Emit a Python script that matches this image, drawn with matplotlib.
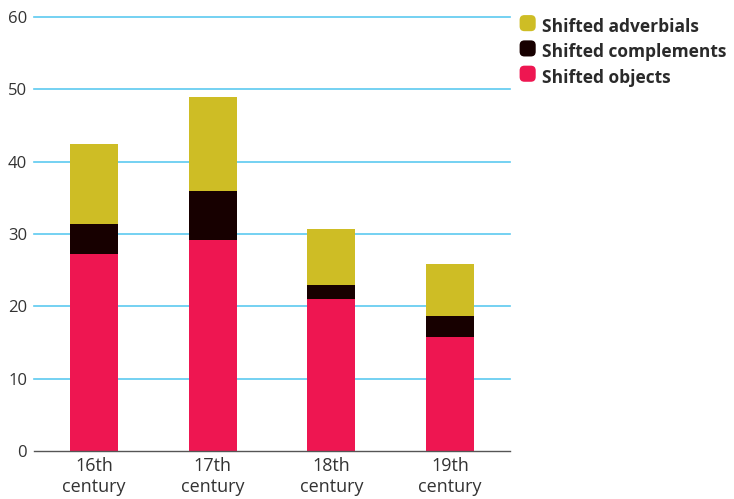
import matplotlib
matplotlib.use("Agg")
import matplotlib.pyplot as plt
from matplotlib.patches import FancyBboxPatch, Patch
from matplotlib.legend_handler import HandlerPatch
import numpy as np

categories = ["16th\ncentury", "17th\ncentury", "18th\ncentury", "19th\ncentury"]
shifted_objects = [27.2, 29.2, 21.0, 15.8]
shifted_complements = [4.2, 6.7, 1.95, 2.9]
shifted_adverbials = [11.0, 13.0, 7.75, 7.15]
y_ticks = [0, 10, 20, 30, 40, 50, 60]

c_obj = "#EE1651"
c_comp = "#170000"
c_adv = "#CEBD25"
grid_c = "#5CC9F0"

plt.rcParams["font.family"] = ["Open Sans", "DejaVu Sans"]

fig = plt.figure(figsize=(7.34, 4.99), dpi=100)
ax = fig.add_axes([0.0463, 0.0962, 0.6485, 0.8697])

x = np.arange(len(categories))
w = 0.405
obj = np.array(shifted_objects)
comp = np.array(shifted_complements)
adv = np.array(shifted_adverbials)

ax.bar(x, obj, w, color=c_obj, zorder=3)
ax.bar(x, comp, w, bottom=obj, color=c_comp, zorder=3)
ax.bar(x, adv, w, bottom=obj + comp, color=c_adv, zorder=3)

ax.set_xlim(-0.505, 3.505)
ax.set_ylim(0, 60)
ax.set_yticks(y_ticks)
ax.set_yticklabels([str(t) for t in y_ticks], fontsize=12, color="#333333")
ax.set_xticks(x)
ax.set_xticklabels(categories, fontsize=13, color="#333333", linespacing=1.25)
ax.tick_params(axis="y", length=0, pad=5)
ax.tick_params(axis="x", length=0, pad=4)

for t in y_ticks[1:]:
    ax.axhline(t, color=grid_c, lw=1.2, zorder=1, clip_on=False)

for s in ["top", "right", "left"]:
    ax.spines[s].set_visible(False)
ax.spines["bottom"].set_color("#555555")
ax.spines["bottom"].set_linewidth(1.0)
ax.spines["bottom"].set_zorder(4)


class RoundBoxHandler(HandlerPatch):
    def create_artists(self, legend, orig_handle, xdescent, ydescent, width,
                       height, fontsize, trans):
        s = min(width, height)
        p = FancyBboxPatch((xdescent + (width - s) / 2, ydescent + (height - s) / 2 - 1),
                           s, s, boxstyle="round,pad=0,rounding_size=%f" % (s * 0.3),
                           facecolor=orig_handle.get_facecolor(), edgecolor="none",
                           transform=trans)
        return [p]


handles = [Patch(facecolor=c_adv), Patch(facecolor=c_comp), Patch(facecolor=c_obj)]
labels = ["Shifted adverbials", "Shifted complements", "Shifted objects"]
leg = fig.legend(handles, labels, loc="upper left", bbox_to_anchor=(0.697, 0.978),
                 frameon=False, prop={"weight": "bold", "size": 12.5},
                 handlelength=1.05, handleheight=1.05, handletextpad=0.3,
                 labelspacing=0.42, borderaxespad=0,
                 handler_map={Patch: RoundBoxHandler()})
for t in leg.get_texts():
    t.set_color("#2a2a2a")

fig.savefig("out.png", dpi=100)
